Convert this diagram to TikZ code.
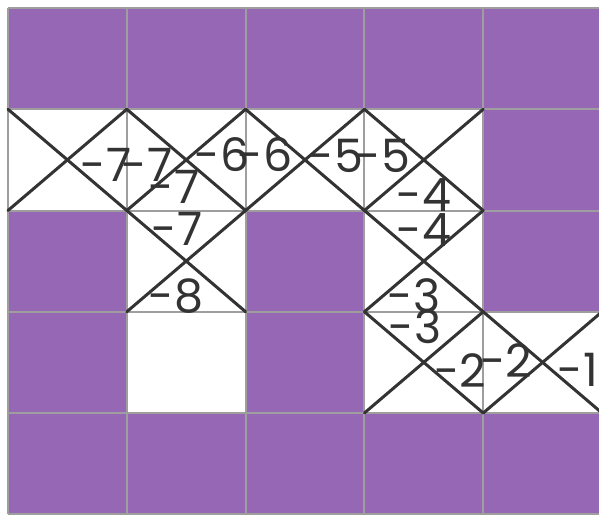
\documentclass[tikz,border=0pt]{standalone}
\usepackage{fontspec}
\setmainfont{Poppins}
\definecolor{cellpurple}{HTML}{9567B5}
\definecolor{gridgray}{HTML}{9E9E9E}
\definecolor{xline}{HTML}{333333}
\definecolor{numcol}{HTML}{333333}
\begin{document}
\begin{tikzpicture}[x=1pt,y=-1pt,
  purplecell/.style={fill=cellpurple,draw=none},
  gridline/.style={draw=gridgray,line width=2pt},
  crossline/.style={draw=xline,line width=3pt,line cap=round},
  numlabel/.style={inner sep=0pt,text=numcol,font=\fontsize{46}{46}\selectfont}]
\useasboundingbox (0,0) rectangle (599,514);
\fill[white] (0,0) rectangle (599,514);
\def\cw{118.8}
\def\ch{101.25}
% purple cells
\foreach \c/\r in {0/0,1/0,2/0,3/0,4/0, 4/1, 0/2,2/2,4/2, 0/3,2/3, 0/4,1/4,2/4,3/4,4/4}{
  \path[purplecell] ({8+\c*\cw},{8+\r*\ch}) rectangle ({8+(\c+1)*\cw},{8+(\r+1)*\ch});
}
% grid
\foreach \c in {0,...,5}{
  \draw[gridline] ({8+\c*\cw},8) -- ({8+\c*\cw},{8+5*\ch});
}
\foreach \r in {0,...,5}{
  \draw[gridline] (8,{8+\r*\ch}) -- ({8+5*\cw},{8+\r*\ch});
}
% crosses
\foreach \c/\r in {0/1,1/1,2/1,3/1, 1/2,3/2, 3/3,4/3}{
  \draw[crossline] ({8+\c*\cw},{8+\r*\ch}) -- ({8+(\c+1)*\cw},{8+(\r+1)*\ch});
  \draw[crossline] ({8+\c*\cw},{8+(\r+1)*\ch}) -- ({8+(\c+1)*\cw},{8+\r*\ch});
}
% labels
\node[numlabel] (a1) at (106,165) {-7};
\node[numlabel] (a2) at (147,165) {-7};
\node[numlabel] (a3) at (174,187) {-7};
\node[numlabel] (a4) at (222,155) {-6};
\node[numlabel] (a5) at (265,155) {-6};
\node[numlabel] (a6) at (336,156) {-5};
\node[numlabel] (a7) at (383,156) {-5};
\node[numlabel] (a8) at (424,195) {-4};
\node[numlabel] (b1) at (177,229) {-7};
\node[numlabel] (b2) at (176,296) {-8};
\node[numlabel] (b3) at (424,230) {-4};
\node[numlabel] (b4) at (414,296) {-3};
\node[numlabel] (c1) at (415,327) {-3};
\node[numlabel] (c2) at (460,371) {-2};
\node[numlabel] (c3) at (506,361) {-2};
\node[numlabel] (c4) at (578,370) {-1};
\end{tikzpicture}
\end{document}
